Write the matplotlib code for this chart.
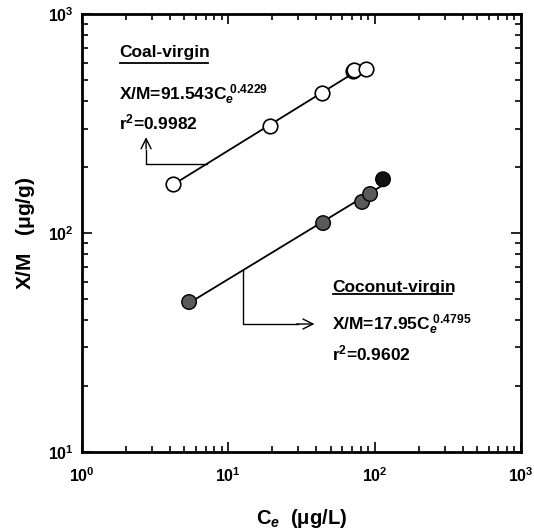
import numpy as np
import matplotlib
matplotlib.use("Agg")
import matplotlib.pyplot as plt
from matplotlib.ticker import LogLocator, NullFormatter

plt.rcParams['font.family'] = ['Liberation Sans', 'DejaVu Sans']
plt.rcParams['font.weight'] = 'bold'
plt.rcParams['mathtext.fontset'] = 'custom'
plt.rcParams['mathtext.rm'] = 'Liberation Sans:bold'
plt.rcParams['mathtext.bf'] = 'Liberation Sans:bold'
plt.rcParams['mathtext.it'] = 'Liberation Sans:bold:italic'
plt.rcParams['mathtext.default'] = 'rm'

# Data
coal_ce = [4.19, 19.3, 43.7, 71.0, 72.5, 87.4]
coal_xm = [167, 308, 436, 549, 555, 561]
coco_ce = [5.39, 44.4, 82.0, 93.0, 114.0]
coco_xm = [48.4, 111, 138.6, 150.7, 176]
coco_colors = ['#5a5a5a', '#5a5a5a', '#5a5a5a', '#5a5a5a', '#111111']

coal_label = "Coal-virgin"
coal_eq = r"X/M=91.543C$_{\mathit{e}}^{\ 0.4229}$"
coal_r2 = r"$r^{2}$=0.9982"
coco_label = "Coconut-virgin"
coco_eq = r"X/M=17.95C$_{\mathit{e}}^{\ 0.4795}$"
coco_r2 = r"$r^{2}$=0.9602"

fig = plt.figure(figsize=(5.34, 5.29), dpi=100)
ax = fig.add_axes([0.1536, 0.1456, 0.8221, 0.8279])
ax.set_xscale('log')
ax.set_yscale('log')
ax.set_xlim(1, 1000)
ax.set_ylim(10, 1000)

def fit_line(x, y, xmax=None):
    p = np.polyfit(np.log10(x), np.log10(y), 1)
    xs = np.array([min(x), max(x) if xmax is None else xmax])
    return xs, 10 ** np.polyval(p, np.log10(xs)), p

xs, ys, pc = fit_line(coal_ce, coal_xm, xmax=coal_ce[3])
ax.plot(xs, ys, color='black', lw=1.3, zorder=2)
xs2, ys2, pk = fit_line(coco_ce, coco_xm)
ax.plot(xs2, ys2, color='black', lw=1.3, zorder=2)

ax.scatter(coal_ce, coal_xm, s=110, facecolor='white', edgecolor='black', lw=1.2, zorder=3)
ax.scatter(coco_ce, coco_xm, s=110, facecolor=coco_colors, edgecolor='black', lw=1.0, zorder=3)

# Callout arrows
ya = 10 ** np.polyval(pc, np.log10(7.15))
ax.plot([7.15, 2.74, 2.74], [ya, ya, 240], color='black', lw=1.0)
ax.annotate('', xy=(2.74, 282), xytext=(2.74, 235),
            arrowprops=dict(arrowstyle='->', lw=1.0, color='black', mutation_scale=18))
yb = 10 ** np.polyval(pk, np.log10(12.6))
ax.plot([12.6, 12.6, 30], [yb, 38.4, 38.4], color='black', lw=1.0)
ax.annotate('', xy=(40.5, 38.4), xytext=(28, 38.4),
            arrowprops=dict(arrowstyle='->', lw=1.0, color='black', mutation_scale=18))

# Texts
fs = 12.5
ax.text(1.79, 664, coal_label, fontsize=fs, fontweight='bold', va='center', ha='left')
ax.plot([1.81, 7.27], [597, 597], color='black', lw=1.3)
ax.text(1.79, 427, coal_eq, fontsize=fs, va='center', ha='left')
ax.text(1.79, 321, coal_r2, fontsize=fs, va='center', ha='left')

ax.text(51.2, 56.6, coco_label, fontsize=fs, fontweight='bold', va='center', ha='left')
ax.plot([51.6, 338], [52.6, 52.6], color='black', lw=1.3)
ax.text(51.2, 38.1, coco_eq, fontsize=fs, va='center', ha='left')
ax.text(51.2, 28.3, coco_r2, fontsize=fs, va='center', ha='left')

# Axes styling
for s in ax.spines.values():
    s.set_linewidth(2.0)
ax.xaxis.set_major_locator(LogLocator(base=10, numticks=10))
ax.yaxis.set_major_locator(LogLocator(base=10, numticks=10))
ax.xaxis.set_minor_locator(LogLocator(base=10, subs=np.arange(2, 10), numticks=20))
ax.yaxis.set_minor_locator(LogLocator(base=10, subs=np.arange(2, 10), numticks=20))
ax.xaxis.set_minor_formatter(NullFormatter())
ax.yaxis.set_minor_formatter(NullFormatter())
ax.tick_params(which='both', direction='in', top=True, right=True, width=1.2)
ax.tick_params(which='major', length=7, labelsize=11.5)
ax.tick_params(axis='x', which='major', pad=10)
ax.tick_params(axis='y', which='major', pad=6)
ax.tick_params(which='minor', length=4)

ax.set_xlabel(r"C$_{\mathit{e}}$  ($\mu$g/L)", fontsize=14.5, fontweight='bold', labelpad=16)
ax.set_ylabel(r"X/M   ($\mu$g/g)", fontsize=15, fontweight='bold', labelpad=8)

fig.savefig("out.png", dpi=100)
